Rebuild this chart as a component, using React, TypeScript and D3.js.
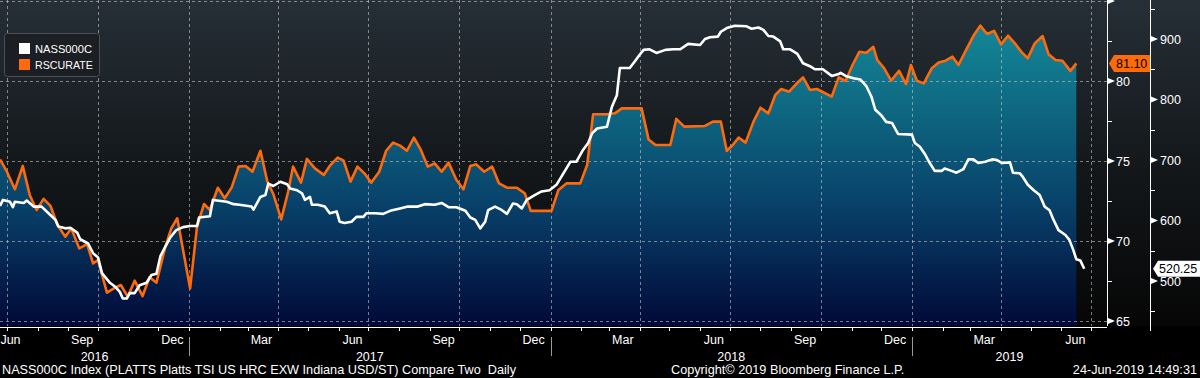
import React from "react";
import * as d3 from "d3";

// ---- DATA ----
const rscurateDates = [
  "2016-06-24","2016-07-01","2016-07-09","2016-07-17","2016-07-24","2016-07-31","2016-08-07","2016-08-14",
  "2016-08-21","2016-08-29","2016-09-04","2016-09-12","2016-09-20","2016-09-26","2016-10-01","2016-10-10",
  "2016-10-17","2016-10-24","2016-10-31","2016-11-07","2016-11-15","2016-11-22","2016-11-29","2016-12-08",
  "2016-12-14","2016-12-20","2017-01-02","2017-01-09","2017-01-16","2017-01-22","2017-01-30","2017-02-06",
  "2017-02-13","2017-02-20","2017-02-27","2017-03-06","2017-03-14","2017-03-21","2017-03-27","2017-04-04",
  "2017-04-11","2017-04-16","2017-04-24","2017-04-30","2017-05-08","2017-05-17","2017-05-23","2017-05-31",
  "2017-06-06","2017-06-13","2017-06-20","2017-06-27","2017-07-04","2017-07-12","2017-07-19","2017-07-26",
  "2017-08-02","2017-08-09","2017-08-16","2017-08-23","2017-08-30","2017-09-06","2017-09-13","2017-09-20",
  "2017-09-28","2017-10-05","2017-10-12","2017-10-18","2017-10-26","2017-11-03","2017-11-10","2017-11-18",
  "2017-11-28","2017-12-06","2017-12-12","2018-01-02","2018-01-09","2018-01-17","2018-01-31","2018-02-07",
  "2018-02-13","2018-02-27","2018-03-07","2018-03-14","2018-04-03","2018-04-10","2018-04-17","2018-05-02",
  "2018-05-08","2018-05-16","2018-06-06","2018-06-14","2018-06-22","2018-06-28","2018-07-04","2018-07-10",
  "2018-07-17","2018-07-25","2018-08-01","2018-08-09","2018-08-16","2018-08-22","2018-08-30","2018-09-06",
  "2018-09-13","2018-09-20","2018-09-27","2018-10-12","2018-10-19","2018-10-26","2018-11-02","2018-11-09",
  "2018-11-16","2018-11-23","2018-11-27","2018-12-04","2018-12-11","2018-12-19","2018-12-26","2018-12-31",
  "2019-01-06","2019-01-13","2019-01-21","2019-01-28","2019-02-04","2019-02-11","2019-02-17","2019-02-25",
  "2019-03-04","2019-03-11","2019-03-18","2019-03-25","2019-04-01","2019-04-08","2019-04-15","2019-04-22",
  "2019-04-28","2019-05-05","2019-05-13","2019-05-19","2019-05-26","2019-06-02","2019-06-10","2019-06-16"
];
const rscurateValues = [
  75.1,74.33,73.23,74.69,72.88,71.94,72.63,72.19,
  71.0,70.27,70.79,69.54,69.81,68.6,68.81,66.77,
  67.04,67.25,66.52,67.52,66.56,67.73,67.4,69.64,
  70.79,71.42,67.04,70.89,72.31,71.94,73.33,72.67,
  73.35,74.65,74.69,74.33,75.64,73.71,72.94,71.35,
  73.08,74.65,73.65,75.13,74.54,74.13,74.69,75.21,
  75.02,73.71,74.65,74.23,73.65,74.33,75.64,76.15,
  75.96,75.64,76.46,75.69,74.65,74.85,74.33,74.9,
  73.81,73.23,74.69,74.79,74.33,74.65,73.6,73.33,
  73.33,72.98,71.88,71.88,73.19,73.6,73.6,74.75,
  77.92,77.92,77.98,78.29,78.29,76.35,76.0,76.0,
  77.63,77.15,77.19,77.46,77.46,75.63,76.0,76.46,
  76.15,77.46,78.33,77.98,79.13,79.5,79.33,79.81,
  80.23,79.44,79.5,79.02,80.23,80.0,81.0,81.83,
  81.77,82.14,81.31,80.79,80.02,80.64,79.81,81.0,
  80.02,79.85,80.79,81.15,81.27,81.52,81.0,81.98,
  82.81,83.46,82.94,83.13,82.29,82.83,82.35,81.79,
  81.42,82.35,82.81,81.67,81.31,81.27,80.63,81.1
];

const nassDates = [
  "2016-06-24","2016-06-27","2016-07-04","2016-07-07","2016-07-09","2016-07-18","2016-07-21","2016-07-28",
  "2016-08-05","2016-08-12","2016-08-19","2016-08-22","2016-08-29","2016-09-03","2016-09-10","2016-09-13",
  "2016-09-21","2016-09-26","2016-10-01","2016-10-05","2016-10-13","2016-10-18","2016-10-23","2016-10-26",
  "2016-10-30","2016-11-02","2016-11-07","2016-11-12","2016-11-19","2016-11-24","2016-11-29","2016-12-03",
  "2016-12-08","2016-12-13","2016-12-19","2016-12-26","2017-01-02","2017-01-09","2017-01-11","2017-01-22",
  "2017-01-25","2017-02-08","2017-02-15","2017-02-21","2017-03-05","2017-03-07","2017-03-14","2017-03-19",
  "2017-03-22","2017-03-27","2017-04-01","2017-04-03","2017-04-10","2017-04-13","2017-04-20","2017-04-25",
  "2017-04-28","2017-05-03","2017-05-05","2017-05-11","2017-05-18","2017-05-23","2017-05-30","2017-06-02",
  "2017-06-07","2017-06-14","2017-06-19","2017-06-26","2017-06-29","2017-07-08","2017-07-16","2017-07-23",
  "2017-08-02","2017-08-10","2017-08-20","2017-08-27","2017-09-06","2017-09-13","2017-09-20","2017-09-28",
  "2017-10-07","2017-10-12","2017-10-17","2017-10-22","2017-10-27","2017-10-30","2017-11-06","2017-11-13",
  "2017-11-18","2017-11-24","2017-11-28","2017-12-03","2017-12-08","2017-12-16","2017-12-23","2017-12-31",
  "2018-01-07","2018-01-14","2018-01-21","2018-01-27","2018-02-03","2018-02-08","2018-02-12","2018-02-17",
  "2018-02-27","2018-03-04","2018-03-09","2018-03-12","2018-03-22","2018-03-28","2018-04-01","2018-04-05",
  "2018-04-11","2018-04-18","2018-04-27","2018-05-05","2018-05-12","2018-05-20","2018-06-01","2018-06-06",
  "2018-06-11","2018-06-19","2018-06-22","2018-06-28","2018-07-06","2018-07-18","2018-07-23","2018-07-30",
  "2018-08-04","2018-08-09","2018-08-14","2018-08-21","2018-08-24","2018-08-31","2018-09-07","2018-09-13",
  "2018-09-20","2018-09-25","2018-10-03","2018-10-12","2018-10-19","2018-10-21","2018-10-26","2018-11-03",
  "2018-11-10","2018-11-16","2018-11-21","2018-11-25","2018-12-01","2018-12-06","2018-12-12","2018-12-15",
  "2018-12-18","2019-01-01","2019-01-04","2019-01-09","2019-01-14","2019-01-19","2019-01-24","2019-01-31",
  "2019-02-03","2019-02-10","2019-02-15","2019-02-22","2019-02-27","2019-03-04","2019-03-09","2019-03-16",
  "2019-03-23","2019-03-28","2019-04-02","2019-04-10","2019-04-13","2019-04-20","2019-04-23","2019-04-28",
  "2019-05-04","2019-05-10","2019-05-15","2019-05-20","2019-05-24","2019-05-29","2019-06-05","2019-06-09",
  "2019-06-13","2019-06-16","2019-06-20","2019-06-24"
];
const nassValues = [
  624,634,631,622,631,629,633,623,
  623,612,601,590,587,588,580,569,
  562,546,539,513,497,491,482,471,
  471,480,480,493,497,510,512,541,
  557,572,584,589,591,591,605,607,
  634,631,627,626,623,618,639,642,
  661,657,662,664,660,653,650,645,
  634,639,626,626,623,612,615,598,
  596,598,606,606,612,612,611,616,
  620,623,623,627,626,629,622,622,
  616,605,601,587,598,617,623,617,
  611,628,627,620,634,642,648,650,
  659,678,697,697,717,728,744,752,
  755,788,807,852,852,865,874,882,
  883,877,882,883,883,892,890,900,
  903,904,912,918,922,921,917,919,
  915,905,904,896,883,883,876,860,
  855,850,850,839,842,844,839,835,
  833,822,805,783,774,763,761,752,
  743,742,728,722,710,695,682,682,
  686,682,679,685,701,701,695,697,
  701,700,695,696,679,678,672,659,
  650,642,623,617,601,584,576,568,
  551,536,534,520.25
];

const leftTicks = [65, 70, 75, 80, 85];
const leftMinorTicks = [67.5, 72.5, 77.5, 82.5];
const rightTicks = [500, 600, 700, 800, 900];
const rightMinorTicks = [450, 550, 650, 750, 850, 950];
const seriesNames = ["NASS000C", "RSCURATE"];
const lastLabels = ["520.25", "81.10"];
const footerLeft = "NASS000C Index (PLATTS Platts TSI US HRC EXW Indiana USD/ST) Compare Two  Daily";
const footerMid = "Copyright\u00A9 2019 Bloomberg Finance L.P.";
const footerRight = "24-Jun-2019 14:49:31";
const domainStart = "2016-06-24";
const domainEnd = "2019-07-17";

// ---- LAYOUT ----
const W = 1200;
const H = 378;
const plotRight = 1107;
const plotBottom = 326;
const axisR = 1150;
const ORANGE = "#ff6a0a";
const FONT = "'Liberation Sans', Arial, sans-serif";

type P = { date: Date; v: number };

export default function App() {
  const parse = d3.timeParse("%Y-%m-%d");
  const x = d3
    .scaleTime()
    .domain([parse(domainStart) as Date, parse(domainEnd) as Date])
    .range([0, plotRight]);
  const yL = d3.scaleLinear().domain([65, 80]).range([321, 81]);
  const yR = d3.scaleLinear().domain([500, 900]).range([281, 39]);

  const orange: P[] = rscurateDates.map((d, i) => ({ date: parse(d) as Date, v: rscurateValues[i] }));
  const white: P[] = nassDates.map((d, i) => ({ date: parse(d) as Date, v: nassValues[i] }));

  const area = d3
    .area<P>()
    .x((d) => x(d.date))
    .y0(plotBottom)
    .y1((d) => yL(d.v));
  const lineO = d3
    .line<P>()
    .x((d) => x(d.date))
    .y((d) => yL(d.v));
  const lineW = d3
    .line<P>()
    .x((d) => x(d.date))
    .y((d) => yR(d.v));

  const [d0, d1] = x.domain();
  const quarters = x.ticks(d3.timeMonth.every(3) as any);
  const months = x.ticks(d3.timeMonth.every(1) as any);
  const years = d3.timeYear.range(d3.timeYear.floor(d0), d1);
  const yearStarts = years.filter((y) => y > d0);

  const labelMonths = d3.timeMonth
    .range(d3.timeMonth.floor(d0), d1)
    .filter((m) => m.getMonth() % 3 === 2);
  const fmtMonth = d3.timeFormat("%b");

  const lastO = orange[orange.length - 1];
  const lastW = white[white.length - 1];
  const yLastO = yL(lastO.v);
  const yLastW = yR(lastW.v);

  return (
    <svg
      width={W}
      height={H}
      style={{ position: "absolute", left: 0, top: 0, background: "#000" }}
      fontFamily={FONT}
    >
      <defs>
        <linearGradient id="bg" x1="0" y1="0" x2="0" y2={plotBottom} gradientUnits="userSpaceOnUse">
          <stop offset="0" stopColor="#262f37" />
          <stop offset="0.5" stopColor="#14181b" />
          <stop offset="1" stopColor="#060606" />
        </linearGradient>
        <linearGradient id="areaFill" x1="0" y1="0" x2="0" y2={plotBottom} gradientUnits="userSpaceOnUse">
          <stop offset="0" stopColor="#15909f" />
          <stop offset="0.3" stopColor="#0f6c84" />
          <stop offset="0.62" stopColor="#08426a" />
          <stop offset="1" stopColor="#010938" />
        </linearGradient>
        <clipPath id="plotClip">
          <rect x={0} y={0} width={plotRight} height={plotBottom} />
        </clipPath>
      </defs>

      <rect x={0} y={0} width={W} height={H} fill="#000" />
      <rect x={0} y={0} width={W} height={plotBottom} fill="url(#bg)" />

      <g clipPath="url(#plotClip)">
        <path d={area(orange) || ""} fill="url(#areaFill)" />
        {leftTicks.map((t) => (
          <line
            key={"h" + t}
            x1={0}
            x2={plotRight}
            y1={Math.round(yL(t)) + 0.5}
            y2={Math.round(yL(t)) + 0.5}
            stroke="rgba(200,200,200,0.6)"
            strokeDasharray="3,3"
          />
        ))}
        {quarters.map((q, i) => (
          <line
            key={"v" + i}
            x1={Math.round(x(q)) + 0.5}
            x2={Math.round(x(q)) + 0.5}
            y1={0}
            y2={plotBottom}
            stroke="rgba(200,200,200,0.6)"
            strokeDasharray="3,3"
          />
        ))}
        <path d={lineO(orange) || ""} fill="none" stroke={ORANGE} strokeWidth={2.6} strokeLinejoin="round" />
        <path d={lineW(white) || ""} fill="none" stroke="#ffffff" strokeWidth={2.6} strokeLinejoin="round" />
      </g>

      {/* left value axis */}
      <line x1={plotRight + 0.5} x2={plotRight + 0.5} y1={0} y2={plotBottom} stroke="#fff" strokeWidth={1} />
      {leftMinorTicks.map((t) => (
        <line key={"lm" + t} x1={plotRight} x2={plotRight + 5} y1={Math.round(yL(t)) + 0.5} y2={Math.round(yL(t)) + 0.5} stroke="#fff" />
      ))}
      {leftTicks.map((t) => {
        const yy = yL(t);
        return (
          <g key={"lt" + t}>
            <path d={`M${plotRight + 1},${yy - 3}L${plotRight + 8},${yy}L${plotRight + 1},${yy + 3}Z`} fill="#fff" />
            {t < 85 && (
              <text x={plotRight + 9} y={yy} dy="0.36em" fill="#fff" fontSize={12.5}>
                {t}
              </text>
            )}
          </g>
        );
      })}

      {/* right value axis */}
      <line x1={axisR + 0.5} x2={axisR + 0.5} y1={0} y2={plotBottom} stroke="#fff" strokeWidth={1} />
      {rightMinorTicks.map((t) => (
        <line key={"rm" + t} x1={axisR} x2={axisR + 5} y1={Math.round(yR(t)) + 0.5} y2={Math.round(yR(t)) + 0.5} stroke="#fff" />
      ))}
      {rightTicks.map((t) => {
        const yy = yR(t);
        return (
          <g key={"rt" + t}>
            <path d={`M${axisR + 1},${yy - 3}L${axisR + 8},${yy}L${axisR + 1},${yy + 3}Z`} fill="#fff" />
            <text x={axisR + 10} y={yy} dy="0.36em" fill="#fff" fontSize={12.5}>
              {t}
            </text>
          </g>
        );
      })}

      {/* last value labels */}
      <path
        d={`M${plotRight + 2},${yLastO}L${plotRight + 7},${yLastO - 8.5}L${axisR},${yLastO - 8.5}L${axisR},${yLastO + 8.5}L${plotRight + 7},${yLastO + 8.5}Z`}
        fill={ORANGE}
      />
      <text x={plotRight + 9} y={yLastO} dy="0.36em" fill="#000" fontSize={12.5}>
        {lastLabels[1]}
      </text>
      <path
        d={`M${axisR + 3},${yLastW}L${axisR + 8},${yLastW - 8}L${W},${yLastW - 8}L${W},${yLastW + 8}L${axisR + 8},${yLastW + 8}Z`}
        fill="#fff"
      />
      <text x={axisR + 9} y={yLastW} dy="0.36em" fill="#000" fontSize={12.5}>
        {lastLabels[0]}
      </text>

      {/* time axis */}
      <line x1={0} x2={plotRight} y1={327.5} y2={327.5} stroke="#fff" />
      <line x1={axisR + 0.5} x2={axisR + 0.5} y1={320} y2={331} stroke="#fff" />
      {months.map((m, i) => (
        <line key={"mt" + i} x1={Math.round(x(m)) + 0.5} x2={Math.round(x(m)) + 0.5} y1={327} y2={331} stroke="#fff" />
      ))}
      {labelMonths.map((m, i) => {
        const mid = d3.timeDay.offset(m, 14);
        let cx = x(mid);
        cx = Math.max(cx, 10.5);
        return (
          <text key={"ml" + i} x={cx} y={343.5} textAnchor="middle" fill="#fff" fontSize={12.5}>
            {fmtMonth(m)}
          </text>
        );
      })}
      {yearStarts.map((y, i) => (
        <line key={"yd" + i} x1={Math.round(x(y)) + 0.5} x2={Math.round(x(y)) + 0.5} y1={337} y2={356} stroke="#9a9a9a" />
      ))}
      {years.map((y, i) => {
        const a = y < d0 ? d0 : y;
        const bEnd = d3.timeYear.offset(y, 1);
        const b = bEnd > d1 ? d1 : bEnd;
        const cx = (x(a) + x(b)) / 2;
        return (
          <text key={"yl" + i} x={cx} y={360.5} textAnchor="middle" fill="#fff" fontSize={12.5}>
            {d3.timeFormat("%Y")(y)}
          </text>
        );
      })}

      {/* legend */}
      <rect x={4.5} y={33.5} width={95} height={43} rx={3} fill="#1b1e22" stroke="#4c5055" />
      <rect x={19} y={43} width={11} height={11} fill="#fff" />
      <rect x={19} y={59} width={11} height={11} fill={ORANGE} />
      <text x={35} y={53} fill="#fff" fontSize={11.5} textLength={57} lengthAdjust="spacingAndGlyphs">
        {seriesNames[0]}
      </text>
      <text x={35} y={69} fill="#fff" fontSize={11.5} textLength={58} lengthAdjust="spacingAndGlyphs">
        {seriesNames[1]}
      </text>

      {/* footer */}
      <text x={2} y={374} fill="#fff" fontSize={12.7} style={{ whiteSpace: "pre" }}>
        {footerLeft}
      </text>
      <text x={671} y={374} fill="#fff" fontSize={12.7}>
        {footerMid}
      </text>
      <text x={1197} y={374} fill="#fff" fontSize={12.7} textAnchor="end">
        {footerRight}
      </text>
    </svg>
  );
}
